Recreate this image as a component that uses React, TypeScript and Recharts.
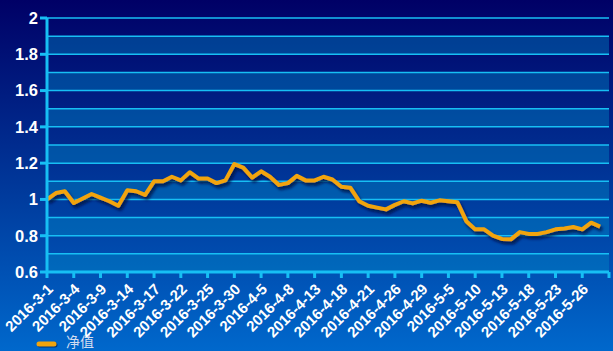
import React from 'react';
import {
  LineChart,
  Line,
  XAxis,
  YAxis,
  ReferenceArea,
  ReferenceLine,
} from 'recharts';

// trading days, 2016-3-1 .. 2016-5-30
const dates = [
  '2016-3-1', '2016-3-2', '2016-3-3', '2016-3-4', '2016-3-7', '2016-3-8', '2016-3-9',
  '2016-3-10', '2016-3-11', '2016-3-14', '2016-3-15', '2016-3-16', '2016-3-17', '2016-3-18',
  '2016-3-21', '2016-3-22', '2016-3-23', '2016-3-24', '2016-3-25', '2016-3-28', '2016-3-29',
  '2016-3-30', '2016-3-31', '2016-4-1', '2016-4-5', '2016-4-6', '2016-4-7', '2016-4-8',
  '2016-4-11', '2016-4-12', '2016-4-13', '2016-4-14', '2016-4-15', '2016-4-18', '2016-4-19',
  '2016-4-20', '2016-4-21', '2016-4-22', '2016-4-25', '2016-4-26', '2016-4-27', '2016-4-28',
  '2016-4-29', '2016-5-3', '2016-5-4', '2016-5-5', '2016-5-6', '2016-5-9', '2016-5-10',
  '2016-5-11', '2016-5-12', '2016-5-13', '2016-5-16', '2016-5-17', '2016-5-18', '2016-5-19',
  '2016-5-20', '2016-5-23', '2016-5-24', '2016-5-25', '2016-5-26', '2016-5-27', '2016-5-30',
];

const netValue = [
  1.0, 1.035, 1.045, 0.98, 1.005, 1.03, 1.01, 0.99, 0.965, 1.05,
  1.045, 1.025, 1.1, 1.1, 1.125, 1.105, 1.15, 1.115, 1.115, 1.09,
  1.105, 1.195, 1.175, 1.12, 1.155, 1.125, 1.08, 1.09, 1.13, 1.105,
  1.105, 1.125, 1.11, 1.07, 1.065, 0.99, 0.965, 0.955, 0.945, 0.97,
  0.99, 0.978, 0.993, 0.982, 0.995, 0.99, 0.985, 0.88, 0.835, 0.835,
  0.8, 0.782, 0.78, 0.82, 0.81, 0.81, 0.82, 0.835, 0.84, 0.848,
  0.835, 0.872, 0.85,
];

// x-axis labels, every third trading day
const tickLabels = [
  '2016-3-1', '2016-3-4', '2016-3-9', '2016-3-14', '2016-3-17', '2016-3-22', '2016-3-25',
  '2016-3-30', '2016-4-5', '2016-4-8', '2016-4-13', '2016-4-18', '2016-4-21', '2016-4-26',
  '2016-4-29', '2016-5-5', '2016-5-10', '2016-5-13', '2016-5-18', '2016-5-23', '2016-5-26',
];

const yTicks = [0.6, 0.8, 1, 1.2, 1.4, 1.6, 1.8, 2];
const gridValues = [0.7, 0.8, 0.9, 1, 1.1, 1.2, 1.3, 1.4, 1.5, 1.6, 1.7, 1.8, 1.9, 2];
const bands = [
  [0.6, 0.7], [0.8, 0.9], [1.0, 1.1], [1.2, 1.3], [1.4, 1.5], [1.6, 1.7], [1.8, 1.9],
];

const data = netValue.map((v, i) => ({ i, v }));
const xTicks = [...tickLabels.map((t) => dates.indexOf(t)), dates.length];

const CYAN = '#17bff4';
const ORANGE = '#f2a40c';
const FONT = '"Liberation Sans", Arial, sans-serif';

function XTick({ x, y, payload }: { x: number; y: number; payload: { value: number } }) {
  const label = dates[payload.value];
  if (!label || !tickLabels.includes(label)) return null;
  return (
    <text
      transform={`translate(${x + 7},${y + 10}) rotate(-45)`}
      textAnchor="end"
      fill="#ffffff"
      fontSize={15}
      fontWeight="bold"
      fontFamily={FONT}
    >
      {label}
    </text>
  );
}

export default function App() {
  return (
    <div
      style={{
        position: 'absolute',
        left: 0,
        top: 0,
        width: 613,
        height: 351,
        overflow: 'hidden',
        background: 'linear-gradient(to bottom, #000066 0%, #003a9c 55%, #0068cc 100%)',
        fontFamily: FONT,
      }}
    >
      <LineChart
        width={613}
        height={351}
        data={data}
        margin={{ top: 18, right: 4, bottom: 0, left: 0 }}
      >
        <defs>
          <filter id="shadow" x="-5%" y="-20%" width="110%" height="140%">
            <feDropShadow dx="2" dy="3" stdDeviation="1.5" floodColor="#001040" floodOpacity="0.85" />
          </filter>
        </defs>
        {bands.map(([a, b]) => (
          <ReferenceArea
            key={a}
            y1={a}
            y2={b}
            fill="#008cc8"
            fillOpacity={0.4}
            stroke="none"
            ifOverflow="hidden"
          />
        ))}
        {gridValues.map((g) => (
          <ReferenceLine key={g} y={g} stroke={CYAN} strokeWidth={1.5} />
        ))}
        <XAxis
          dataKey="i"
          type="number"
          domain={[0, dates.length]}
          ticks={xTicks}
          interval={0}
          height={79}
          stroke={CYAN}
          strokeWidth={3}
          tickSize={6}
          tickLine={{ stroke: CYAN, strokeWidth: 3 }}
          tick={XTick}
        />
        <YAxis
          domain={[0.6, 2]}
          ticks={yTicks}
          interval={0}
          width={47}
          stroke={CYAN}
          strokeWidth={3}
          tickSize={7}
          tickLine={{ stroke: CYAN, strokeWidth: 3 }}
          tickFormatter={(v: number) => String(v)}
          tick={{ fill: '#ffffff', fontSize: 16.5, fontWeight: 'bold', fontFamily: FONT }}
        />
        <Line
          dataKey="v"
          stroke={ORANGE}
          strokeWidth={4}
          dot={false}
          activeDot={false}
          strokeLinejoin="round"
          filter="url(#shadow)"
          isAnimationActive={false}
        />
      </LineChart>
      <div style={{ position: 'absolute', left: 36, top: 333, display: 'flex', alignItems: 'center', height: 16 }}>
        <svg width={22} height={16}>
          <line x1={4} y1={12} x2={19} y2={12} stroke="#001848" strokeOpacity={0.6} strokeWidth={5} strokeLinecap="round" />
          <line x1={3} y1={11} x2={18} y2={11} stroke={ORANGE} strokeWidth={5} strokeLinecap="round" />
        </svg>
        <span style={{ marginLeft: 8, color: '#d2dcf0', fontSize: 14, lineHeight: '16px', fontFamily: '"Noto Sans CJK SC", sans-serif' }}>
          净值
        </span>
      </div>
    </div>
  );
}
